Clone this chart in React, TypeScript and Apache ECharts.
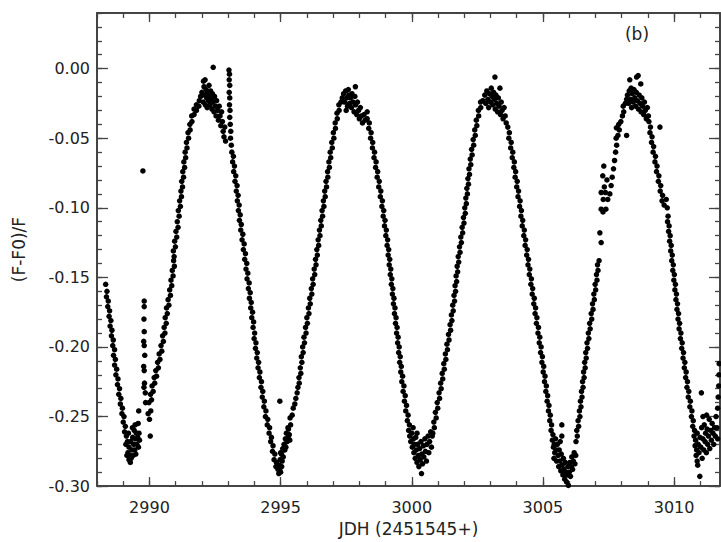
import React, { useEffect, useRef } from "react";
import * as echarts from "echarts";

const X_MIN = 2988;
const X_MAX = 3011.75;
const Y_MIN = -0.3;
const Y_MAX = 0.04;

const xMajorTicks = [2990, 2995, 3000, 3005, 3010];
const xMinorTicks = [2988, 2989, 2990, 2991, 2992, 2993, 2994, 2995, 2996, 2997, 2998, 2999, 3000, 3001, 3002, 3003, 3004, 3005, 3006, 3007, 3008, 3009, 3010, 3011];
const yMajorTicks = [-0.3, -0.25, -0.2, -0.15, -0.1, -0.05, 0];
const yMinorTicks = [-0.3, -0.29, -0.28, -0.27, -0.26, -0.25, -0.24, -0.23, -0.22, -0.21, -0.2, -0.19, -0.18, -0.17, -0.16, -0.15, -0.14, -0.13, -0.12, -0.11, -0.1, -0.09, -0.08, -0.07, -0.06, -0.05, -0.04, -0.03, -0.02, -0.01, 0, 0.01, 0.02, 0.03, 0.04];

const xTitle = "JDH (2451545+)";
const yTitle = "(F-F0)/F";
const panelLabel = "(b)";

const descA = [[2988.33,-0.155],[2988.38,-0.160],[2988.36,-0.164],[2988.43,-0.167],[2988.41,-0.171],[2988.48,-0.174],[2988.46,-0.178],[2988.53,-0.181],[2988.50,-0.185],[2988.57,-0.188],[2988.55,-0.192],[2988.62,-0.195],[2988.60,-0.199],[2988.67,-0.202],[2988.63,-0.206],[2988.70,-0.209],[2988.67,-0.213],[2988.75,-0.216],[2988.72,-0.220],[2988.80,-0.223],[2988.78,-0.227],[2988.86,-0.230],[2988.83,-0.234],[2988.91,-0.237],[2988.89,-0.241],[2988.97,-0.244],[2988.95,-0.248],[2989.03,-0.250],[2989.00,-0.254],[2989.08,-0.257],[2989.05,-0.261]];
const troughA = [[2989.12,-0.264],[2989.16,-0.268],[2989.10,-0.270],[2989.20,-0.262],[2989.22,-0.272],[2989.18,-0.276],[2989.27,-0.283],[2989.25,-0.278],[2989.30,-0.280],[2989.33,-0.274],[2989.28,-0.268],[2989.36,-0.265],[2989.40,-0.270],[2989.38,-0.278],[2989.44,-0.274],[2989.46,-0.266],[2989.50,-0.262],[2989.52,-0.270],[2989.48,-0.277],[2989.55,-0.265],[2989.58,-0.272],[2989.60,-0.262],[2989.62,-0.267],[2989.42,-0.260],[2989.35,-0.258],[2989.14,-0.278],[2989.22,-0.281],[2989.59,-0.246],[2989.45,-0.256],[2989.57,-0.255]];
const columnA = [[2989.75,-0.0735],[2989.80,-0.167],[2989.80,-0.171],[2989.79,-0.180],[2989.80,-0.189],[2989.78,-0.196],[2989.80,-0.199],[2989.82,-0.206],[2989.78,-0.214],[2989.80,-0.217],[2989.81,-0.226],[2989.79,-0.229],[2989.84,-0.233],[2989.85,-0.240]];
const riseA = [[2990.03,-0.264],[2989.95,-0.248],[2990.00,-0.252],[2990.05,-0.246],[2989.98,-0.240],[2990.08,-0.238],[2990.04,-0.234],[2990.14,-0.232],[2990.10,-0.228],[2990.20,-0.226],[2990.18,-0.222],[2990.27,-0.221],[2990.24,-0.217],[2990.34,-0.215],[2990.31,-0.211],[2990.40,-0.209],[2990.37,-0.205],[2990.47,-0.203],[2990.44,-0.199],[2990.53,-0.196],[2990.50,-0.192],[2990.59,-0.190],[2990.56,-0.186],[2990.64,-0.183],[2990.60,-0.179],[2990.68,-0.176],[2990.65,-0.172],[2990.74,-0.170],[2990.71,-0.166],[2990.80,-0.163],[2990.77,-0.159],[2990.85,-0.156],[2990.82,-0.152],[2990.90,-0.149],[2990.87,-0.145],[2990.95,-0.142],[2990.92,-0.138],[2990.94,-0.135],[2990.91,-0.131],[2990.99,-0.128],[2990.96,-0.124],[2991.04,-0.121],[2991.01,-0.117],[2991.09,-0.114],[2991.06,-0.110],[2991.13,-0.106],[2991.10,-0.102],[2991.18,-0.099],[2991.15,-0.095],[2991.22,-0.092],[2991.20,-0.088],[2991.26,-0.085],[2991.23,-0.081],[2991.30,-0.078],[2991.27,-0.074],[2991.34,-0.071],[2991.31,-0.067],[2991.38,-0.064],[2991.36,-0.060],[2991.43,-0.057],[2991.41,-0.053],[2991.49,-0.050],[2991.47,-0.046],[2991.55,-0.044],[2991.54,-0.040],[2991.62,-0.038],[2991.61,-0.034],[2991.70,-0.033],[2991.70,-0.029],[2991.79,-0.030],[2991.79,-0.026],[2991.88,-0.027],[2991.90,-0.023]];
const peakA = [[2991.95,-0.020],[2992.00,-0.017],[2992.05,-0.024],[2992.08,-0.013],[2992.10,-0.019],[2992.13,-0.026],[2992.16,-0.015],[2992.18,-0.021],[2992.20,-0.028],[2992.22,-0.017],[2992.25,-0.023],[2992.27,-0.012],[2992.29,-0.019],[2992.31,-0.026],[2992.33,-0.016],[2992.36,-0.022],[2992.38,-0.029],[2992.40,-0.018],[2992.43,0.001],[2992.43,-0.024],[2992.46,-0.031],[2992.48,-0.020],[2992.51,-0.027],[2992.54,-0.034],[2992.56,-0.023],[2992.60,-0.030],[2992.63,-0.037],[2992.66,-0.027],[2992.69,-0.034],[2992.72,-0.041],[2992.75,-0.031],[2992.78,-0.038],[2992.81,-0.045],[2992.84,-0.049],[2992.87,-0.042],[2992.90,-0.052],[2992.06,-0.009],[2992.12,-0.008]];
const columnB = [[2993.03,-0.001],[2993.05,-0.004],[2993.04,-0.008],[2993.06,-0.012],[2993.04,-0.017],[2993.06,-0.021],[2993.05,-0.026],[2993.07,-0.030],[2993.06,-0.035],[2993.08,-0.040],[2993.10,-0.045],[2993.09,-0.050],[2993.12,-0.055]];
const descB = [[2993.14,-0.060],[2993.20,-0.063],[2993.17,-0.067],[2993.24,-0.070],[2993.21,-0.074],[2993.29,-0.077],[2993.26,-0.081],[2993.34,-0.084],[2993.31,-0.088],[2993.38,-0.091],[2993.35,-0.095],[2993.42,-0.098],[2993.39,-0.102],[2993.46,-0.105],[2993.43,-0.109],[2993.50,-0.112],[2993.48,-0.116],[2993.56,-0.119],[2993.53,-0.123],[2993.61,-0.126],[2993.58,-0.130],[2993.66,-0.133],[2993.63,-0.137],[2993.71,-0.140],[2993.68,-0.144],[2993.75,-0.147],[2993.72,-0.151],[2993.80,-0.154],[2993.77,-0.158],[2993.84,-0.161],[2993.81,-0.165],[2993.88,-0.168],[2993.86,-0.172],[2993.93,-0.175],[2993.90,-0.179],[2993.97,-0.182],[2993.95,-0.186],[2994.01,-0.190],[2993.99,-0.194],[2994.06,-0.197],[2994.04,-0.201],[2994.11,-0.204],[2994.09,-0.208],[2994.16,-0.211],[2994.14,-0.215],[2994.21,-0.218],[2994.19,-0.222],[2994.27,-0.225],[2994.25,-0.229],[2994.32,-0.232],[2994.30,-0.236],[2994.38,-0.239],[2994.36,-0.243],[2994.44,-0.246],[2994.42,-0.250],[2994.51,-0.252],[2994.49,-0.256],[2994.58,-0.258],[2994.56,-0.262],[2994.65,-0.265],[2994.62,-0.268],[2994.71,-0.271],[2994.69,-0.275],[2994.78,-0.277],[2994.75,-0.281],[2994.84,-0.283],[2994.82,-0.286],[2994.90,-0.288],[2994.93,-0.291],[2994.97,-0.289]];
const troughB = [[2994.95,-0.285],[2995.00,-0.290],[2995.04,-0.286],[2994.98,-0.281],[2995.06,-0.282],[2995.03,-0.277],[2995.10,-0.279],[2995.00,-0.276],[2995.08,-0.273],[2995.13,-0.270],[2995.18,-0.266],[2995.22,-0.262],[2995.16,-0.274],[2995.25,-0.268],[2995.30,-0.264],[2995.35,-0.267],[2995.28,-0.258],[2994.97,-0.239]];
const riseB = [[2995.12,-0.274],[2995.20,-0.272],[2995.25,-0.266],[2995.33,-0.263],[2995.30,-0.259],[2995.38,-0.256],[2995.36,-0.251],[2995.44,-0.249],[2995.48,-0.244],[2995.54,-0.241],[2995.58,-0.237],[2995.63,-0.233],[2995.66,-0.229],[2995.71,-0.226],[2995.70,-0.222],[2995.77,-0.219],[2995.75,-0.215],[2995.81,-0.211],[2995.79,-0.207],[2995.86,-0.204],[2995.84,-0.200],[2995.91,-0.197],[2995.89,-0.193],[2995.97,-0.190],[2995.95,-0.186],[2996.02,-0.183],[2996.00,-0.179],[2996.08,-0.176],[2996.06,-0.172],[2996.13,-0.169],[2996.11,-0.165],[2996.19,-0.162],[2996.17,-0.158],[2996.24,-0.155],[2996.22,-0.151],[2996.30,-0.148],[2996.28,-0.144],[2996.35,-0.141],[2996.33,-0.137],[2996.40,-0.134],[2996.38,-0.130],[2996.45,-0.127],[2996.43,-0.123],[2996.50,-0.120],[2996.48,-0.116],[2996.55,-0.113],[2996.53,-0.109],[2996.60,-0.106],[2996.58,-0.102],[2996.65,-0.099],[2996.63,-0.095],[2996.70,-0.092],[2996.68,-0.088],[2996.75,-0.085],[2996.73,-0.081],[2996.80,-0.078],[2996.79,-0.074],[2996.86,-0.071],[2996.84,-0.067],[2996.91,-0.064],[2996.89,-0.060],[2996.97,-0.057],[2996.95,-0.053],[2997.03,-0.050],[2997.01,-0.046],[2997.09,-0.043],[2997.08,-0.039],[2997.16,-0.036],[2997.15,-0.032],[2997.23,-0.030],[2997.22,-0.026],[2997.30,-0.024]];
const peakC = [[2997.35,-0.021],[2997.40,-0.018],[2997.44,-0.024],[2997.48,-0.016],[2997.52,-0.021],[2997.55,-0.027],[2997.58,-0.015],[2997.60,-0.019],[2997.63,-0.025],[2997.66,-0.021],[2997.70,-0.028],[2997.72,-0.018],[2997.76,-0.024],[2997.80,-0.031],[2997.83,-0.020],[2997.86,-0.026],[2997.90,-0.033],[2997.93,-0.024],[2997.97,-0.030],[2998.00,-0.036],[2998.04,-0.028],[2998.08,-0.034],[2998.12,-0.039],[2998.18,-0.033],[2998.22,-0.037],[2997.85,-0.013],[2997.50,-0.030],[2998.30,-0.031]];
const descC = [[2998.30,-0.036],[2998.38,-0.039],[2998.36,-0.043],[2998.45,-0.046],[2998.43,-0.050],[2998.51,-0.053],[2998.50,-0.057],[2998.58,-0.060],[2998.56,-0.064],[2998.64,-0.067],[2998.62,-0.071],[2998.70,-0.074],[2998.68,-0.078],[2998.76,-0.081],[2998.74,-0.085],[2998.82,-0.088],[2998.80,-0.092],[2998.88,-0.095],[2998.86,-0.099],[2998.93,-0.102],[2998.91,-0.106],[2998.98,-0.109],[2998.96,-0.113],[2999.03,-0.116],[2999.01,-0.120],[2999.08,-0.123],[2999.06,-0.127],[2999.12,-0.130],[2999.10,-0.134],[2999.16,-0.137],[2999.14,-0.141],[2999.20,-0.144],[2999.18,-0.148],[2999.24,-0.151],[2999.22,-0.155],[2999.28,-0.158],[2999.26,-0.162],[2999.32,-0.165],[2999.30,-0.169],[2999.36,-0.172],[2999.34,-0.176],[2999.40,-0.179],[2999.38,-0.183],[2999.44,-0.186],[2999.42,-0.190],[2999.48,-0.193],[2999.46,-0.197],[2999.52,-0.200],[2999.50,-0.204],[2999.56,-0.207],[2999.54,-0.211],[2999.60,-0.214],[2999.58,-0.218],[2999.65,-0.221],[2999.62,-0.225],[2999.70,-0.228],[2999.67,-0.232],[2999.75,-0.235],[2999.72,-0.239],[2999.80,-0.242],[2999.77,-0.246],[2999.86,-0.249],[2999.83,-0.253],[2999.91,-0.256],[2999.88,-0.260]];
const troughC = [[2999.92,-0.264],[2999.96,-0.268],[3000.00,-0.262],[3000.02,-0.272],[3000.06,-0.266],[3000.08,-0.276],[3000.10,-0.270],[3000.13,-0.280],[3000.15,-0.265],[3000.17,-0.274],[3000.20,-0.283],[3000.22,-0.270],[3000.25,-0.278],[3000.27,-0.286],[3000.30,-0.273],[3000.32,-0.281],[3000.35,-0.268],[3000.37,-0.291],[3000.38,-0.277],[3000.41,-0.284],[3000.44,-0.271],[3000.46,-0.279],[3000.50,-0.266],[3000.52,-0.275],[3000.56,-0.282],[3000.58,-0.270],[3000.62,-0.264],[3000.65,-0.276],[3000.68,-0.268],[3000.72,-0.261],[3000.75,-0.272],[3000.78,-0.264],[3000.20,-0.262],[3000.05,-0.258]];
const riseD = [[3000.80,-0.262],[3000.86,-0.258],[3000.84,-0.254],[3000.93,-0.251],[3000.90,-0.247],[3000.99,-0.244],[3000.97,-0.240],[3001.06,-0.237],[3001.04,-0.233],[3001.12,-0.230],[3001.10,-0.226],[3001.18,-0.223],[3001.16,-0.219],[3001.24,-0.216],[3001.22,-0.212],[3001.30,-0.209],[3001.28,-0.205],[3001.36,-0.202],[3001.34,-0.198],[3001.42,-0.195],[3001.40,-0.191],[3001.48,-0.188],[3001.46,-0.184],[3001.53,-0.181],[3001.51,-0.177],[3001.58,-0.174],[3001.56,-0.170],[3001.63,-0.167],[3001.61,-0.163],[3001.67,-0.160],[3001.65,-0.156],[3001.71,-0.153],[3001.69,-0.149],[3001.75,-0.146],[3001.73,-0.142],[3001.79,-0.139],[3001.77,-0.135],[3001.84,-0.132],[3001.82,-0.128],[3001.89,-0.125],[3001.87,-0.121],[3001.94,-0.118],[3001.92,-0.114],[3001.99,-0.111],[3001.97,-0.107],[3002.04,-0.104],[3002.02,-0.100],[3002.08,-0.097],[3002.06,-0.093],[3002.12,-0.090],[3002.10,-0.086],[3002.16,-0.083],[3002.14,-0.079],[3002.20,-0.076],[3002.18,-0.072],[3002.25,-0.069],[3002.23,-0.065],[3002.30,-0.062],[3002.28,-0.058],[3002.36,-0.055],[3002.34,-0.051],[3002.42,-0.048],[3002.40,-0.044],[3002.48,-0.041],[3002.46,-0.037],[3002.55,-0.034],[3002.54,-0.030],[3002.63,-0.028],[3002.62,-0.024],[3002.71,-0.023]];
const peakD = [[3002.78,-0.019],[3002.82,-0.025],[3002.86,-0.016],[3002.90,-0.022],[3002.93,-0.028],[3002.96,-0.018],[3003.00,-0.024],[3003.03,-0.014],[3003.06,-0.020],[3003.09,-0.026],[3003.12,-0.017],[3003.15,-0.022],[3003.17,-0.006],[3003.18,-0.029],[3003.21,-0.019],[3003.24,-0.025],[3003.27,-0.031],[3003.30,-0.021],[3003.33,-0.027],[3003.36,-0.014],[3003.38,-0.033],[3003.41,-0.024],[3003.44,-0.030],[3003.48,-0.036],[3003.52,-0.028],[3003.56,-0.034],[3003.60,-0.039]];
const descE = [[3003.66,-0.042],[3003.72,-0.046],[3003.70,-0.050],[3003.79,-0.053],[3003.77,-0.057],[3003.85,-0.060],[3003.83,-0.064],[3003.91,-0.067],[3003.89,-0.071],[3003.96,-0.074],[3003.94,-0.078],[3004.02,-0.081],[3004.00,-0.085],[3004.07,-0.088],[3004.05,-0.092],[3004.13,-0.095],[3004.11,-0.099],[3004.18,-0.102],[3004.16,-0.106],[3004.23,-0.109],[3004.21,-0.113],[3004.29,-0.116],[3004.27,-0.120],[3004.34,-0.123],[3004.32,-0.127],[3004.40,-0.130],[3004.38,-0.134],[3004.45,-0.137],[3004.43,-0.141],[3004.50,-0.144],[3004.48,-0.148],[3004.56,-0.151],[3004.54,-0.155],[3004.61,-0.158],[3004.59,-0.162],[3004.67,-0.165],[3004.65,-0.169],[3004.72,-0.172],[3004.70,-0.176],[3004.77,-0.179],[3004.75,-0.183],[3004.83,-0.186],[3004.81,-0.190],[3004.88,-0.193],[3004.86,-0.197],[3004.93,-0.200],[3004.91,-0.204],[3004.98,-0.207],[3004.96,-0.211],[3005.03,-0.214],[3005.01,-0.218],[3005.08,-0.221],[3005.06,-0.225],[3005.13,-0.228],[3005.11,-0.232],[3005.18,-0.235],[3005.16,-0.239],[3005.23,-0.242],[3005.21,-0.246],[3005.28,-0.249],[3005.26,-0.253],[3005.33,-0.256],[3005.31,-0.260],[3005.38,-0.263],[3005.36,-0.267],[3005.43,-0.270]];
const troughE = [[3005.40,-0.272],[3005.45,-0.276],[3005.42,-0.280],[3005.50,-0.274],[3005.52,-0.282],[3005.55,-0.270],[3005.58,-0.278],[3005.60,-0.286],[3005.62,-0.274],[3005.65,-0.282],[3005.68,-0.289],[3005.70,-0.277],[3005.72,-0.256],[3005.72,-0.264],[3005.73,-0.285],[3005.76,-0.292],[3005.78,-0.280],[3005.80,-0.288],[3005.83,-0.295],[3005.85,-0.283],[3005.87,-0.290],[3005.90,-0.297],[3005.93,-0.292],[3005.95,-0.286],[3005.97,-0.2995],[3006.00,-0.290],[3006.03,-0.283],[3006.05,-0.293],[3006.08,-0.286],[3006.10,-0.279],[3006.13,-0.288],[3006.16,-0.282],[3006.19,-0.276],[3006.22,-0.284],[3006.25,-0.278],[3005.48,-0.266],[3005.66,-0.268]];
const riseE = [[3006.26,-0.268],[3006.31,-0.264],[3006.29,-0.260],[3006.36,-0.257],[3006.34,-0.253],[3006.41,-0.250],[3006.39,-0.246],[3006.45,-0.243],[3006.43,-0.239],[3006.49,-0.236],[3006.47,-0.232],[3006.53,-0.229],[3006.51,-0.225],[3006.57,-0.222],[3006.55,-0.218],[3006.61,-0.215],[3006.59,-0.211],[3006.65,-0.208],[3006.63,-0.204],[3006.70,-0.201],[3006.68,-0.197],[3006.75,-0.194],[3006.73,-0.190],[3006.80,-0.187],[3006.78,-0.183],[3006.86,-0.180],[3006.84,-0.176],[3006.91,-0.173],[3006.89,-0.169],[3006.96,-0.166],[3006.94,-0.162],[3007.01,-0.159],[3006.99,-0.155],[3007.06,-0.152],[3007.04,-0.148],[3007.10,-0.145],[3007.08,-0.141],[3007.14,-0.138],[3007.17,-0.118],[3007.22,-0.125],[3007.22,-0.101],[3007.29,-0.103],[3007.22,-0.089],[3007.30,-0.094],[3007.34,-0.085],[3007.28,-0.077],[3007.32,-0.070],[3007.38,-0.089],[3007.44,-0.080],[3007.40,-0.101],[3007.47,-0.094],[3007.55,-0.090],[3007.60,-0.084],[3007.64,-0.078],[3007.69,-0.072],[3007.73,-0.066],[3007.77,-0.060],[3007.81,-0.055],[3007.79,-0.050],[3007.86,-0.048],[3007.91,-0.044],[3007.89,-0.040],[3007.97,-0.038],[3008.03,-0.034],[3008.08,-0.031],[3008.06,-0.027],[3008.14,-0.025],[3008.19,-0.022],[3008.19,-0.048],[3007.80,-0.0425]];
const peakF = [[3008.22,-0.019],[3008.26,-0.025],[3008.29,-0.016],[3008.31,-0.008],[3008.33,-0.022],[3008.36,-0.014],[3008.38,-0.028],[3008.40,-0.018],[3008.44,-0.024],[3008.47,-0.015],[3008.50,-0.021],[3008.53,-0.027],[3008.56,-0.017],[3008.57,-0.006],[3008.60,-0.023],[3008.63,-0.005],[3008.64,-0.029],[3008.67,-0.019],[3008.70,-0.025],[3008.73,-0.011],[3008.74,-0.031],[3008.77,-0.021],[3008.80,-0.027],[3008.84,-0.033],[3008.87,-0.024],[3008.90,-0.030],[3008.94,-0.036],[3008.98,-0.028],[3009.02,-0.034]];
const descF = [[3009.04,-0.038],[3009.10,-0.042],[3009.08,-0.046],[3009.16,-0.049],[3009.14,-0.053],[3009.22,-0.056],[3009.20,-0.060],[3009.29,-0.063],[3009.27,-0.067],[3009.35,-0.070],[3009.33,-0.074],[3009.42,-0.077],[3009.40,-0.081],[3009.49,-0.084],[3009.47,-0.088],[3009.56,-0.091],[3009.54,-0.095],[3009.62,-0.098],[3009.70,-0.094],[3009.74,-0.100],[3009.77,-0.106],[3009.75,-0.110],[3009.81,-0.113],[3009.79,-0.117],[3009.85,-0.120],[3009.83,-0.124],[3009.89,-0.127],[3009.87,-0.131],[3009.93,-0.134],[3009.91,-0.138],[3009.97,-0.141],[3009.95,-0.145],[3010.01,-0.148],[3009.99,-0.152],[3010.05,-0.155],[3010.03,-0.159],[3010.09,-0.162],[3010.07,-0.166],[3010.13,-0.169],[3010.11,-0.173],[3010.17,-0.176],[3010.15,-0.180],[3010.21,-0.183],[3010.19,-0.187],[3010.26,-0.190],[3010.24,-0.194],[3010.31,-0.197],[3010.29,-0.201],[3010.36,-0.204],[3010.34,-0.208],[3010.41,-0.211],[3010.39,-0.215],[3010.46,-0.218],[3010.44,-0.222],[3010.51,-0.225],[3010.49,-0.229],[3010.56,-0.232],[3010.54,-0.236],[3010.62,-0.239],[3010.60,-0.243],[3010.68,-0.246],[3010.66,-0.250],[3010.73,-0.253],[3010.71,-0.257],[3010.78,-0.260],[3010.76,-0.264],[3010.82,-0.267],[3010.80,-0.271],[3010.86,-0.274],[3010.84,-0.278],[3010.88,-0.282],[3009.46,-0.042]];
const troughF = [[3010.88,-0.262],[3010.92,-0.270],[3010.90,-0.285],[3010.95,-0.276],[3010.98,-0.293],[3010.99,-0.265],[3011.02,-0.272],[3011.04,-0.233],[3011.05,-0.258],[3011.07,-0.280],[3011.10,-0.266],[3011.13,-0.274],[3011.15,-0.256],[3011.18,-0.268],[3011.20,-0.262],[3011.23,-0.276],[3011.26,-0.259],[3011.28,-0.270],[3011.31,-0.264],[3011.34,-0.252],[3011.36,-0.273],[3011.39,-0.260],[3011.42,-0.267],[3011.45,-0.255],[3011.48,-0.262],[3011.51,-0.270],[3011.54,-0.258],[3011.57,-0.264],[3011.60,-0.250],[3011.63,-0.258],[3011.66,-0.244],[3011.68,-0.236],[3011.70,-0.228],[3011.71,-0.220],[3011.72,-0.212],[3011.66,-0.266],[3011.10,-0.250],[3011.24,-0.249]];

const FONT = "'DejaVu Sans', 'Liberation Sans', sans-serif";
const AXIS_COLOR = "#444";
const TEXT_COLOR = "#222";

function xAxisDef(position: string, ticks: number[], len: number, line: boolean, labels: boolean, extra: any = {}) {
  return {
    type: "value",
    min: X_MIN,
    max: X_MAX,
    position,
    axisLine: { show: line, onZero: false, lineStyle: { color: AXIS_COLOR, width: 2 } },
    axisTick: { show: true, inside: true, length: len, customValues: ticks, lineStyle: { color: AXIS_COLOR, width: 1.3 } },
    axisLabel: labels
      ? { show: true, customValues: xMajorTicks, formatter: (v: number) => String(Math.round(v)), margin: 13, color: TEXT_COLOR, fontFamily: FONT, fontSize: 16 }
      : { show: false },
    splitLine: { show: false },
    ...extra,
  };
}

function yAxisDef(position: string, ticks: number[], len: number, line: boolean, labels: boolean, extra: any = {}) {
  return {
    type: "value",
    min: Y_MIN,
    max: Y_MAX,
    position,
    axisLine: { show: line, onZero: false, lineStyle: { color: AXIS_COLOR, width: 2 } },
    axisTick: { show: true, inside: true, length: len, customValues: ticks, lineStyle: { color: AXIS_COLOR, width: 1.3 } },
    axisLabel: labels
      ? { show: true, customValues: yMajorTicks, formatter: (v: number) => v.toFixed(2), margin: 7, color: TEXT_COLOR, fontFamily: FONT, fontSize: 16 }
      : { show: false },
    splitLine: { show: false },
    ...extra,
  };
}

export default function App() {
  const ref = useRef<HTMLDivElement>(null);
  useEffect(() => {
    document.body.style.margin = "0";
    if (!ref.current) return;
    const chart = echarts.init(ref.current, undefined, { renderer: "svg" });
    const data = [
      ...descA, ...troughA, ...columnA, ...riseA, ...peakA, ...columnB,
      ...descB, ...troughB, ...riseB, ...peakC, ...descC, ...troughC,
      ...riseD, ...peakD, ...descE, ...troughE, ...riseE, ...peakF,
      ...descF, ...troughF,
    ];
    chart.setOption({
      animation: false,
      backgroundColor: "#fff",
      grid: { left: 97, right: 1, top: 13, bottom: 55, containLabel: false },
      xAxis: [
        xAxisDef("bottom", xMajorTicks, 9, true, true, {
          name: xTitle,
          nameLocation: "middle",
          nameGap: 32,
          nameTextStyle: { color: TEXT_COLOR, fontFamily: FONT, fontSize: 17 },
        }),
        xAxisDef("bottom", xMinorTicks, 5, false, false),
        xAxisDef("top", xMajorTicks, 9, true, false),
        xAxisDef("top", xMinorTicks, 5, false, false),
      ],
      yAxis: [
        yAxisDef("left", yMajorTicks, 11, true, true, {
          name: yTitle,
          nameLocation: "middle",
          nameGap: 70,
          nameRotate: 90,
          nameTextStyle: { color: TEXT_COLOR, fontFamily: FONT, fontSize: 17 },
        }),
        yAxisDef("left", yMinorTicks, 5, false, false),
        yAxisDef("right", yMajorTicks, 11, true, false),
        yAxisDef("right", yMinorTicks, 5, false, false),
      ],
      graphic: [
        {
          type: "text",
          x: 637,
          y: 34,
          style: { text: panelLabel, fill: TEXT_COLOR, font: `17px ${FONT}`, align: "center", verticalAlign: "middle" },
        },
      ],
      series: [
        {
          type: "scatter",
          xAxisIndex: 0,
          yAxisIndex: 0,
          data,
          symbol: "circle",
          symbolSize: 5.5,
          itemStyle: { color: "#000", opacity: 1 },
          silent: true,
        },
      ],
    });
    return () => chart.dispose();
  }, []);
  return <div ref={ref} style={{ position: "absolute", left: 0, top: 0, width: 721, height: 542 }} />;
}
